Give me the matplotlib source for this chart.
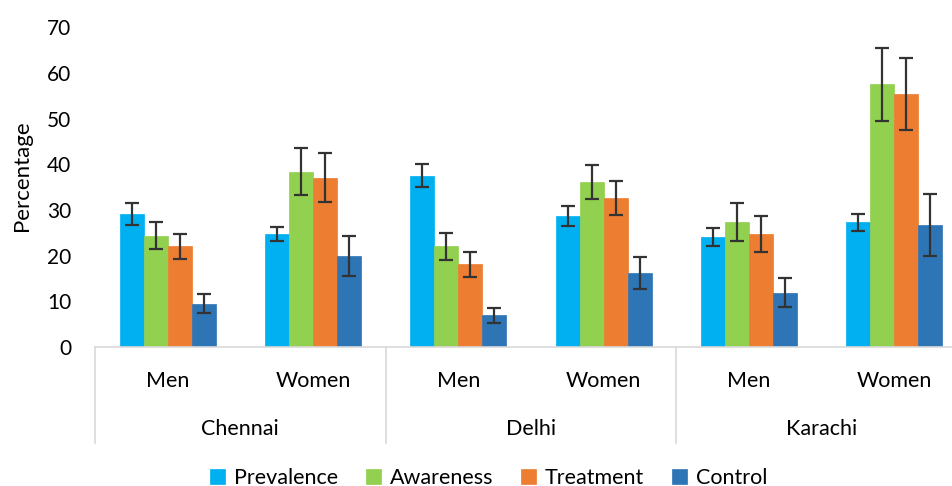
import numpy as np
import matplotlib.pyplot as plt
import matplotlib.transforms as mtransforms

plt.rcParams["font.family"] = ["Lato", "DejaVu Sans"]

cities = ["Chennai", "Delhi", "Karachi"]
sexes = ["Men", "Women"]
series = ["Prevalence", "Awareness", "Treatment", "Control"]
colors = ["#00B0F0", "#92D050", "#ED7D31", "#2E75B6"]

# order: Chennai Men, Chennai Women, Delhi Men, Delhi Women, Karachi Men, Karachi Women
prevalence = [29.1, 24.7, 37.5, 28.6, 24.1, 27.3]
awareness = [24.4, 38.4, 22.0, 36.1, 27.3, 57.5]
treatment = [22.0, 37.1, 18.1, 32.7, 24.7, 55.3]
control = [9.5, 20.0, 6.9, 16.3, 11.9, 26.7]

prevalence_err = [2.4, 1.6, 2.5, 2.2, 2.0, 1.9]
awareness_err = [3.0, 5.1, 3.0, 3.7, 4.2, 8.0]
treatment_err = [2.8, 5.3, 2.7, 3.7, 3.9, 7.9]
control_err = [2.0, 4.4, 1.6, 3.5, 3.1, 6.8]

values = [prevalence, awareness, treatment, control]
errors = [prevalence_err, awareness_err, treatment_err, control_err]

fig = plt.figure(figsize=(9.53, 4.86), dpi=100)
ax = fig.add_axes([0.0997, 0.286, 0.915, 0.658])

x = np.arange(len(prevalence))
width = 0.165
for i, (name, vals, errs, col) in enumerate(zip(series, values, errors, colors)):
    pos = x + (i - 1.5) * width
    ax.bar(pos, vals, width, color=col, label=name, edgecolor=col, linewidth=0.5, zorder=2)
    ax.errorbar(pos, vals, yerr=errs, fmt="none", ecolor="#333333",
                elinewidth=1.6, capsize=5, capthick=1.6, zorder=3)

ax.set_xlim(-0.5, 5.5)
ax.set_ylim(0, 70)
ax.set_yticks(range(0, 71, 10))
ax.tick_params(axis="y", length=0, pad=17, labelsize=15)
ax.set_xticks([])

for side in ["top", "right", "left"]:
    ax.spines[side].set_visible(False)
ax.spines["bottom"].set_color("#D9D9D9")
ax.spines["bottom"].set_linewidth(1.2)

# two-level category labels under the axis
trans = mtransforms.blended_transform_factory(ax.transData, ax.transAxes)
for j, city in enumerate(cities):
    for k, sex in enumerate(sexes):
        ax.text(2 * j + k, -0.105, sex, transform=trans, ha="center", va="center",
                fontsize=15.5, color="black")
    ax.text(2 * j + 0.5, -0.255, city, transform=trans, ha="center", va="center",
            fontsize=15.5, color="black")
for b in [-0.5, 1.5, 3.5, 5.5]:
    ax.plot([b, b], [0, -0.3], transform=trans, color="#D9D9D9", lw=1.2, clip_on=False)

fig.text(0.023, 0.638, "Percentage", rotation=90, ha="center", va="center", fontsize=16)

fig.legend(loc="center", bbox_to_anchor=(0.513, 0.017), ncol=4, frameon=False,
           fontsize=15.5, handlelength=0.7, handleheight=0.7, handletextpad=0.4,
           columnspacing=1.3)

fig.savefig("out.png", dpi=100)
